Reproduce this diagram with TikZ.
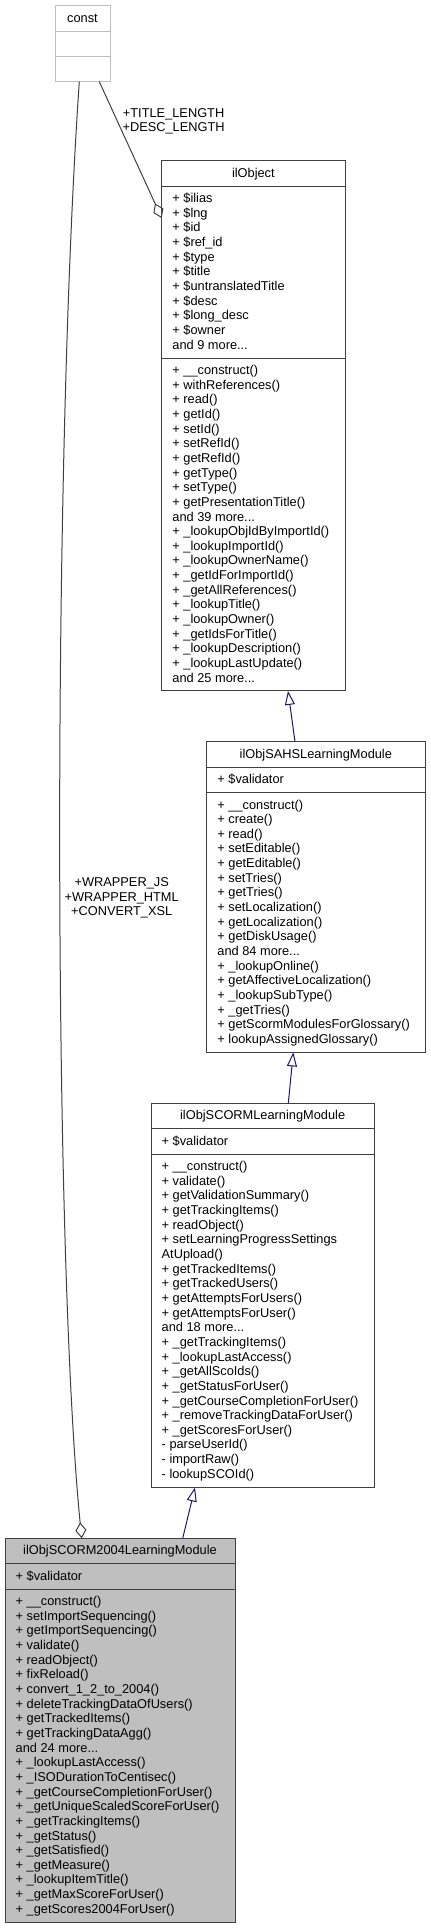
\documentclass[tikz,border=0pt]{standalone}
\usepackage{fontspec}
\setmainfont{Liberation Sans}
\usetikzlibrary{arrows.meta}
\definecolor{edgeblue}{HTML}{191970}
\definecolor{boxgray}{HTML}{404040}
\definecolor{constgray}{HTML}{BFBFBF}
\definecolor{fillgray}{HTML}{BFBFBF}
\newcommand\LS{14.65}
\newcommand\mdots{{.}{.}{.}}
\tikzset{
  classbox/.style={draw=boxgray, line width=1pt, fill=white, inner sep=0pt, outer sep=0pt, anchor=north west},
  focusbox/.style={classbox, fill=fillgray},
  constbox/.style={classbox, draw=constgray},
  divider/.style={draw=boxgray, line width=1pt},
  constdivider/.style={draw=constgray, line width=1pt},
  mtext/.style={anchor=base west, inner sep=0pt, font=\fontsize{12.8}{14.65}\selectfont},
  ttext/.style={anchor=base, inner sep=0pt, font=\fontsize{12.8}{14.65}\selectfont},
  elabel/.style={inner sep=0pt, align=center, font=\fontsize{12.8}{14.65}\selectfont},
  inherit/.style={draw=edgeblue, line width=1pt, -{Triangle[open, length=14pt, width=10pt, line width=1pt]}},
  aggr/.style={draw=boxgray, line width=1pt, {Diamond[open, length=16pt, width=11pt, line width=1pt]}-},
}
\newcommand\mlines[4]{\foreach \t [count=\i] in {#4}{\node[mtext] (#1\i) at ({#2},{#3+(\i-1)*\LS}) {\t};}}
\begin{document}
\begin{tikzpicture}[x=1pt, y=-1pt]
\useasboundingbox (0,0) rectangle (431,1928);

% ---- const ----
\node[constbox, minimum width=55pt, minimum height=76pt] (const) at (55,5.7) {};
\draw[constdivider] (const.west |- 0,31.2) -- (const.east |- 0,31.2);
\draw[constdivider] (const.west |- 0,56.7) -- (const.east |- 0,56.7);
\node[ttext] (const-t) at (82.5,22) {const};

% ---- ilObject ----
\node[classbox, minimum width=183.3pt, minimum height=530.2pt] (ilo) at (161.7,160.7) {};
\draw[divider] (ilo.west |- 0,186.2) -- (ilo.east |- 0,186.2);
\draw[divider] (ilo.west |- 0,358.2) -- (ilo.east |- 0,358.2);
\node[ttext] (ilo-t) at (253.35,177.0) {ilObject};
\mlines{ilo-a}{172.2}{202.5}{+ \$ilias,+ \$lng,+ \$id,+ \$ref\_id,+ \$type,+ \$title,+ \$untranslatedTitle,+ \$desc,+ \$long\_desc,+ \$owner,and 9 more\mdots}
\mlines{ilo-m}{172.2}{374.5}{+ \_\_construct(),+ withReferences(),+ read(),+ getId(),+ setId(),+ setRefId(),+ getRefId(),+ getType(),+ setType(),+ getPresentationTitle(),and 39 more\mdots,+ \_lookupObjIdByImportId(),+ \_lookupImportId(),+ \_lookupOwnerName(),+ \_getIdForImportId(),+ \_getAllReferences(),+ \_lookupTitle(),+ \_lookupOwner(),+ \_getIdsForTitle(),+ \_lookupDescription(),+ \_lookupLastUpdate(),and 25 more\mdots}

% ---- ilObjSAHSLearningModule ----
\node[classbox, minimum width=218.3pt, minimum height=310.7pt] (sahs) at (206.7,741.7) {};
\draw[divider] (sahs.west |- 0,767.2) -- (sahs.east |- 0,767.2);
\draw[divider] (sahs.west |- 0,792.7) -- (sahs.east |- 0,792.7);
\node[ttext] (sahs-t) at (315.85,758.0) {ilObjSAHSLearningModule};
\mlines{sahs-a}{217.2}{783.5}{+ \$validator}
\mlines{sahs-m}{217.2}{809.0}{+ \_\_construct(),+ create(),+ read(),+ setEditable(),+ getEditable(),+ setTries(),+ getTries(),+ setLocalization(),+ getLocalization(),+ getDiskUsage(),and 84 more\mdots,+ \_lookupOnline(),+ getAffectiveLocalization(),+ \_lookupSubType(),+ \_getTries(),+ getScormModulesForGlossary(),+ lookupAssignedGlossary()}

% ---- ilObjSCORMLearningModule ----
\node[classbox, minimum width=223.3pt, minimum height=384.2pt] (scorm) at (151,1103.3) {};
\draw[divider] (scorm.west |- 0,1128.8) -- (scorm.east |- 0,1128.8);
\draw[divider] (scorm.west |- 0,1154.3) -- (scorm.east |- 0,1154.3);
\node[ttext] (scorm-t) at (262.65,1119.6) {ilObjSCORMLearningModule};
\mlines{scorm-a}{161.5}{1145.1}{+ \$validator}
\mlines{scorm-m}{161.5}{1170.6}{+ \_\_construct(),+ validate(),+ getValidationSummary(),+ getTrackingItems(),+ readObject(),+ setLearningProgressSettings,AtUpload(),+ getTrackedItems(),+ getTrackedUsers(),+ getAttemptsForUsers(),+ getAttemptsForUser(),and 18 more\mdots,+ \_getTrackingItems(),+ \_lookupLastAccess(),+ \_getAllScoIds(),+ \_getStatusForUser(),+ \_getCourseCompletionForUser(),+ \_removeTrackingDataForUser(),+ \_getScoresForUser(),- parseUserId(),- importRaw(),- lookupSCOId()}

% ---- ilObjSCORM2004LearningModule ----
\node[focusbox, minimum width=230pt, minimum height=384.2pt] (m2004) at (5,1538.3) {};
\draw[divider] (m2004.west |- 0,1563.8) -- (m2004.east |- 0,1563.8);
\draw[divider] (m2004.west |- 0,1589.3) -- (m2004.east |- 0,1589.3);
\node[ttext] (m2004-t) at (120,1554.6) {ilObjSCORM2004LearningModule};
\mlines{m2004-a}{15.5}{1580.1}{+ \$validator}
\mlines{m2004-m}{15.5}{1605.6}{+ \_\_construct(),+ setImportSequencing(),+ getImportSequencing(),+ validate(),+ readObject(),+ fixReload(),+ convert\_1\_2\_to\_2004(),+ deleteTrackingDataOfUsers(),+ getTrackedItems(),+ getTrackingDataAgg(),and 24 more\mdots,+ \_lookupLastAccess(),+ \_ISODurationToCentisec(),+ \_getCourseCompletionForUser(),+ \_getUniqueScaledScoreForUser(),+ \_getTrackingItems(),+ \_getStatus(),+ \_getSatisfied(),+ \_getMeasure(),+ \_lookupItemTitle(),+ \_getMaxScoreForUser(),+ \_getScores2004ForUser()}

% ---- connectors ----
\draw[inherit] ([xshift=-20.85pt]sahs.north) -- ([xshift=34.65pt]ilo.south);
\draw[inherit] ([xshift=25.65pt]scorm.north) -- ([xshift=-22.55pt]sahs.south);
\draw[inherit] ([xshift=62.7pt]m2004.north) -- ([xshift=-67.65pt]scorm.south);
\draw[aggr] ([yshift=-57.3pt]ilo.north west) -- ([xshift=16.8pt]const.south);
\draw[aggr] ([xshift=-38.3pt]m2004.north) .. controls (54,1260) and (52,480) .. ([xshift=-3.2pt]const.south);

% ---- edge labels ----
\node[elabel] (lbl-ilo) at (173.6,121.5) {\strut+TITLE\_LENGTH\\\strut+DESC\_LENGTH};
\node[elabel] (lbl-2004) at (121.7,898.2) {\strut+WRAPPER\_JS\\\strut+WRAPPER\_HTML\\\strut+CONVERT\_XSL};
\end{tikzpicture}
\end{document}
